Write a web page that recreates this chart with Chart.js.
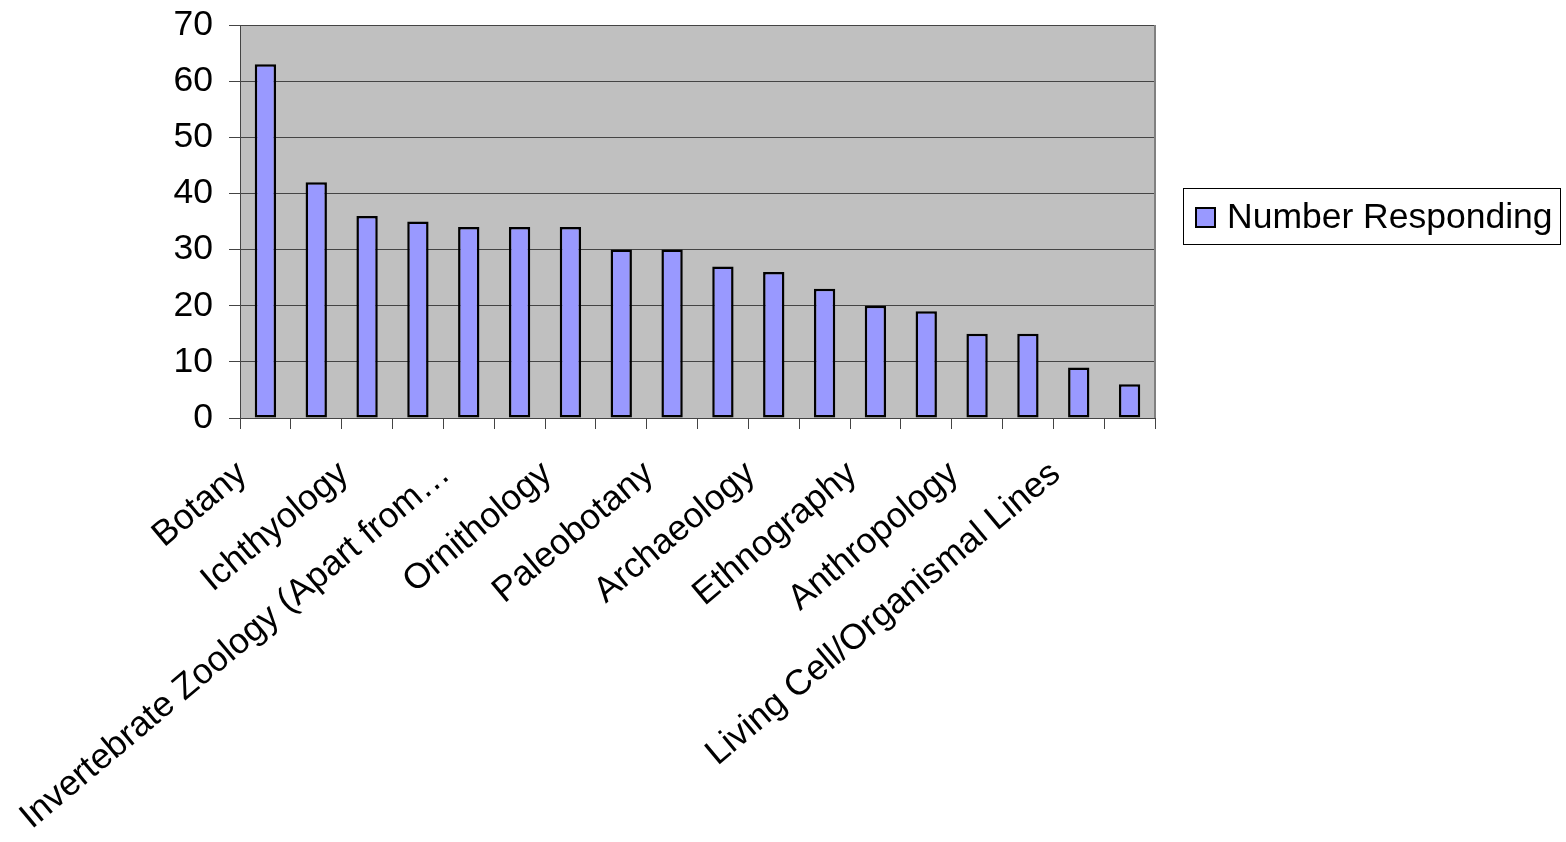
<!DOCTYPE html>
<html><head><meta charset="utf-8">
<script src="https://cdn.jsdelivr.net/npm/chart.js@4"></script>
<style>html,body{margin:0;padding:0;background:#fff}#wrap{width:1566px;height:842px}</style>
</head><body><div id="wrap"><canvas id="c" width="1566" height="842"></canvas></div>
<script>
const categories = ['Botany','','Ichthyology','','Invertebrate Zoology (Apart from\u2026','','Ornithology','','Paleobotany','','Archaeology','','Ethnography','','Anthropology','','Living Cell/Organismal Lines',''];
const numberResponding = [63,42,36,35,34,34,34,30,30,27,26,23,20,19,15,15,9,6];
const yTicks = [0,10,20,30,40,50,60,70];
const seriesName = 'Number Responding';

const FONT = "'Liberation Sans', Arial, sans-serif";
const BAR_FILL = '#9999FF';
const GRID = '#444444';

const plotDeco = {
  id: 'plotDeco',
  beforeDraw(chart) {
    const a = chart.chartArea, ctx = chart.ctx;
    ctx.save();
    ctx.fillStyle = '#C0C0C0';
    ctx.fillRect(a.left, a.top, a.right - a.left, a.bottom - a.top);
    ctx.restore();
  },
  afterDraw(chart) {
    const a = chart.chartArea, ctx = chart.ctx;
    ctx.save();
    ctx.strokeStyle = '#808080';
    ctx.lineWidth = 2;
    ctx.beginPath();
    ctx.moveTo(a.right, a.top);
    ctx.lineTo(a.right, a.bottom);
    ctx.stroke();
    // legend
    ctx.fillStyle = '#ffffff';
    ctx.fillRect(1183, 188, 378, 57);
    ctx.strokeStyle = '#000000';
    ctx.lineWidth = 1;
    ctx.strokeRect(1183.5, 188.5, 377, 56);
    ctx.fillStyle = BAR_FILL;
    ctx.fillRect(1196, 208, 19, 19);
    ctx.lineWidth = 2;
    ctx.strokeRect(1196, 208, 19, 19);
    ctx.fillStyle = '#000000';
    ctx.font = '35.5px ' + FONT;
    ctx.textBaseline = 'alphabetic';
    ctx.textAlign = 'left';
    ctx.fillText(chart.data.datasets[0].label, 1227, 228);
    ctx.restore();
  }
};

new Chart(document.getElementById('c'), {
  type: 'bar',
  data: {
    labels: categories,
    datasets: [{
      label: seriesName,
      data: numberResponding,
      backgroundColor: BAR_FILL,
      borderColor: '#000000',
      borderWidth: 2.5,
      borderSkipped: false,
      categoryPercentage: 1.0,
      barPercentage: 0.42
    }]
  },
  options: {
    responsive: false,
    animation: false,
    devicePixelRatio: 1,
    layout: { padding: { left: 0, top: 25, right: 411, bottom: 0 } },
    plugins: { legend: { display: false }, tooltip: { enabled: false } },
    scales: {
      x: {
        offset: true,
        grid: { display: true, drawOnChartArea: false, drawTicks: true, tickLength: 11, color: GRID, offset: true },
        border: { display: true, color: GRID, width: 1 },
        ticks: { autoSkip: false, minRotation: 40, maxRotation: 40, padding: 24, labelOffset: -23, color: '#000', font: { family: FONT, size: 35.5 } },
        afterFit(scale) { scale.height = 424; scale.paddingLeft = 0; scale.paddingRight = 0; }
      },
      y: {
        min: 0, max: 70,
        afterBuildTicks(scale) { scale.ticks = yTicks.map(v => ({ value: v })); },
        grid: { color: GRID, lineWidth: 1, drawTicks: true, tickLength: 11 },
        border: { display: true, color: GRID, width: 1 },
        ticks: { padding: 16, color: '#000', font: { family: FONT, size: 35.5 } },
        afterFit(scale) { scale.width = 240; scale.paddingTop = 0; scale.paddingBottom = 0; }
      }
    }
  },
  plugins: [plotDeco]
});
</script></body></html>
